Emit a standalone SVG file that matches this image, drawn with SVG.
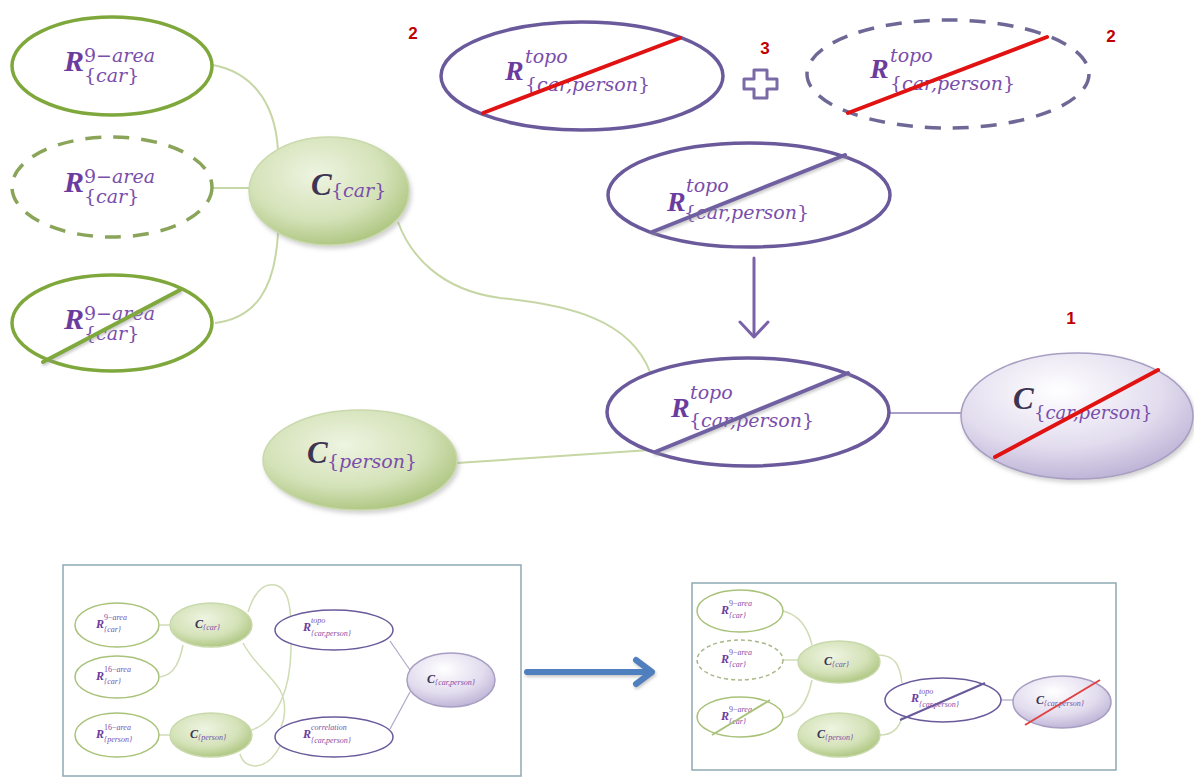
<svg xmlns="http://www.w3.org/2000/svg" width="1194" height="779" viewBox="0 0 1194 779">
<defs>
<radialGradient id="gG" cx="0.42" cy="0.35" r="0.7">
<stop offset="0" stop-color="#eef4e1"/>
<stop offset="0.6" stop-color="#d4e2b8"/>
<stop offset="1" stop-color="#a9c27a"/>
</radialGradient>
<radialGradient id="gP" cx="0.42" cy="0.3" r="0.75">
<stop offset="0" stop-color="#ffffff"/>
<stop offset="0.6" stop-color="#e2dcee"/>
<stop offset="1" stop-color="#b9aed3"/>
</radialGradient>
<filter id="sh" x="-20%" y="-20%" width="140%" height="150%">
<feDropShadow dx="2" dy="3" stdDeviation="2" flood-color="#808080" flood-opacity="0.35"/>
</filter>
<filter id="lsh" x="-10%" y="-40%" width="120%" height="180%">
<feDropShadow dx="1" dy="2" stdDeviation="1.5" flood-color="#909090" flood-opacity="0.5"/>
</filter>
<style>
.ge{fill:#fff;stroke:#7fa83c;stroke-width:3.5}
.gd{fill:#fff;stroke:#8aa55a;stroke-width:3.5;stroke-dasharray:16 12}
.gf{fill:url(#gG);stroke:#c9d9ab;stroke-width:1.5}
.pe{fill:#fff;stroke:#6a5a9c;stroke-width:3.5}
.pd{fill:#fff;stroke:#6e6896;stroke-width:3.5;stroke-dasharray:16 12}
.pf{fill:url(#gP);stroke:#a79ec2;stroke-width:1.5}
.gc{fill:none;stroke:#c6d6a4;stroke-width:2}
.pc{fill:none;stroke:#a99fc8;stroke-width:2}
.red{stroke:#e01212;stroke-width:4;stroke-linecap:round}
.ps{stroke:#7061a2;stroke-width:4;stroke-linecap:round}
.gs{stroke:#7fa83c;stroke-width:4;stroke-linecap:round}
.R{font-family:"Liberation Serif",serif;font-weight:bold;font-style:italic;fill:#6b3c9e}
.C{font-family:"Liberation Serif",serif;font-weight:bold;font-style:italic;fill:#3d3452}
.s{font-family:"DejaVu Serif",serif;font-style:italic;fill:#7a4eab}
.t{font-family:"Liberation Serif",serif;font-style:italic;fill:#7a4eab}
.n{font-style:normal}
.num{font-family:"Liberation Sans",sans-serif;font-weight:bold;font-size:17px;fill:#c00000;text-anchor:middle}
.ge2{fill:#fff;stroke:#a9c27a;stroke-width:1.5}
.gd2{fill:#fff;stroke:#a9b888;stroke-width:1.5;stroke-dasharray:4 3}
.pe2{fill:#fff;stroke:#6a5a9c;stroke-width:1.5}
.gc2{fill:none;stroke:#cfdcb4;stroke-width:1.5}
.pc2{fill:none;stroke:#aea6c8;stroke-width:1.2}
.box{fill:#fff;stroke:#8fa9b2;stroke-width:1.5}
</style>
</defs>
<rect width="1194" height="779" fill="#ffffff"/>

<g id="connectors">
<path class="gc" d="M213,65 C250,72 275,100 278,150"/>
<path class="gc" d="M212,188 L250,188"/>
<path class="gc" d="M215,323 C255,318 275,290 278,233"/>
<path class="gc" d="M398,222 C410,255 440,290 500,298 C570,305 630,320 650,372"/>
<path class="gc" d="M457,463 L650,450"/>
<path class="pc" d="M889,413 L962,413"/>
<g fill="none" stroke="#7a62a8" stroke-width="3" stroke-linecap="round" stroke-linejoin="round">
<path d="M754,258 L754,336"/>
<path d="M740,322 L754,337 L768,322"/>
</g>
<g fill="none" stroke="#4f7fbf" stroke-width="6" stroke-linecap="round" stroke-linejoin="round" filter="url(#lsh)">
<path d="M527,672 L650,672"/>
<path d="M636,660 L652,672 L636,684"/>
</g>
</g>

<g id="n-r9-car-1">
<ellipse class="ge" cx="112" cy="66" rx="100" ry="49"/>
<text class="R" x="64" y="71" font-size="30">R</text>
<text class="s" x="84" y="62" font-size="19"><tspan class="n">9−</tspan>area</text>
<text class="s" x="84" y="82" font-size="19"><tspan class="n">{</tspan>car<tspan class="n">}</tspan></text>
</g>
<g id="n-r9-car-2">
<ellipse class="gd" cx="112" cy="187" rx="100" ry="50"/>
<text class="R" x="64" y="192" font-size="30">R</text>
<text class="s" x="84" y="183" font-size="19"><tspan class="n">9−</tspan>area</text>
<text class="s" x="84" y="203" font-size="19"><tspan class="n">{</tspan>car<tspan class="n">}</tspan></text>
</g>
<g id="n-r9-car-3">
<ellipse class="ge" cx="112" cy="323" rx="100" ry="48"/>
<text class="R" x="64" y="329" font-size="30">R</text>
<text class="s" x="84" y="320" font-size="19"><tspan class="n">9−</tspan>area</text>
<text class="s" x="84" y="340" font-size="19"><tspan class="n">{</tspan>car<tspan class="n">}</tspan></text>
<line class="gs" x1="43" y1="362" x2="180" y2="290" filter="url(#lsh)"/>
</g>
<g id="n-c-car">
<ellipse class="gf" cx="329" cy="191" rx="80" ry="54" filter="url(#sh)"/>
<text class="C" x="311" y="195" font-size="31">C</text>
<text class="s" x="331" y="197" font-size="19"><tspan class="n">{</tspan>car<tspan class="n">}</tspan></text>
</g>
<g id="n-c-person">
<ellipse class="gf" cx="360" cy="460" rx="97" ry="50" filter="url(#sh)"/>
<text class="C" x="307" y="463" font-size="31">C</text>
<text class="s" x="327" y="468" font-size="19"><tspan class="n">{</tspan>person<tspan class="n">}</tspan></text>
</g>

<text class="num" x="413" y="39">2</text>
<g id="n-topo-1">
<ellipse class="pe" cx="582" cy="76" rx="141" ry="54"/>
<text class="R" x="505" y="80" font-size="28">R</text>
<text class="s" x="525" y="63" font-size="19">topo</text>
<text class="s" x="525" y="91" font-size="19"><tspan class="n">{</tspan>car,person<tspan class="n">}</tspan></text>
<line class="red" x1="483" y1="113" x2="680" y2="38"/>
</g>
<text class="num" x="765" y="54">3</text>
<path id="plus" d="M754,70 H767 V79 H777 V89 H767 V98 H754 V89 H744 V79 H754 Z" fill="#fff" stroke="#7a6aa8" stroke-width="3" stroke-linejoin="round"/>
<g id="n-topo-2">
<ellipse class="pd" cx="948" cy="74" rx="141" ry="54"/>
<text class="R" x="870" y="78" font-size="28">R</text>
<text class="s" x="890" y="62" font-size="19">topo</text>
<text class="s" x="890" y="90" font-size="19"><tspan class="n">{</tspan>car,person<tspan class="n">}</tspan></text>
<line class="red" x1="848" y1="113" x2="1047" y2="37"/>
</g>
<text class="num" x="1111" y="42">2</text>

<g id="n-topo-mid">
<ellipse class="pe" cx="749" cy="195" rx="141" ry="52"/>
<text class="R" x="667" y="211" font-size="28">R</text>
<text class="s" x="686" y="192" font-size="19">topo</text>
<text class="s" x="684" y="219" font-size="19"><tspan class="n">{</tspan>car,person<tspan class="n">}</tspan></text>
<line class="ps" x1="652" y1="232" x2="845" y2="155" filter="url(#lsh)"/>
</g>
<g id="n-topo-bottom">
<ellipse class="pe" cx="748" cy="412" rx="141" ry="54"/>
<text class="R" x="671" y="417" font-size="28">R</text>
<text class="s" x="690" y="399" font-size="19">topo</text>
<text class="s" x="689" y="427" font-size="19"><tspan class="n">{</tspan>car,person<tspan class="n">}</tspan></text>
<line class="ps" x1="655" y1="452" x2="848" y2="373" filter="url(#lsh)"/>
</g>
<text class="num" x="1071" y="324">1</text>
<g id="n-c-carperson">
<ellipse class="pf" cx="1077" cy="416" rx="116" ry="63" filter="url(#sh)"/>
<text class="C" x="1013" y="409" font-size="31">C</text>
<text class="s" x="1034" y="419" font-size="18"><tspan class="n">{</tspan>car,person<tspan class="n">}</tspan></text>
<line class="red" x1="995" y1="457" x2="1158" y2="370"/>
</g>

<g id="before-box">
<rect class="box" x="63" y="565" width="458" height="211"/>
<g id="b-connectors">
<path class="gc2" d="M160,625 L170,625"/>
<path class="gc2" d="M160,677 C175,675 180,660 183,645"/>
<path class="gc2" d="M159,735 L170,735"/>
<path class="gc2" d="M248,612 C255,590 265,583 275,585 C290,588 292,610 291,650 C290,690 278,720 252,730"/>
<path class="gc2" d="M243,643 C255,665 268,672 280,690 C287,703 285,718 281,727"/>
<path class="gc2" d="M240,754 C245,772 268,770 280,746"/>
<path class="pc2" d="M390,641 L410,670"/>
<path class="pc2" d="M390,729 L410,692"/>
</g>
<g id="b-r9"><ellipse class="ge2" cx="117" cy="625" rx="42" ry="22"/>
<text class="R" x="96" y="628" font-size="12">R</text><text class="t" x="104" y="620" font-size="8"><tspan class="n">9−</tspan>area</text><text class="t" x="104" y="632" font-size="8">{car}</text></g>
<g id="b-r16c"><ellipse class="ge2" cx="117" cy="677" rx="42" ry="21"/>
<text class="R" x="96" y="680" font-size="12">R</text><text class="t" x="104" y="672" font-size="8"><tspan class="n">16−</tspan>area</text><text class="t" x="104" y="684" font-size="8">{car}</text></g>
<g id="b-r16p"><ellipse class="ge2" cx="117" cy="735" rx="42" ry="22"/>
<text class="R" x="96" y="738" font-size="12">R</text><text class="t" x="104" y="730" font-size="8"><tspan class="n">16−</tspan>area</text><text class="t" x="104" y="742" font-size="8">{person}</text></g>
<g id="b-ccar"><ellipse class="gf" cx="211" cy="625" rx="41" ry="22"/>
<text class="C" x="195" y="628" font-size="12">C</text><text class="t" x="203" y="630" font-size="8">{car}</text></g>
<g id="b-cperson"><ellipse class="gf" cx="211" cy="735" rx="41" ry="22"/>
<text class="C" x="190" y="738" font-size="12">C</text><text class="t" x="198" y="740" font-size="8">{person}</text></g>
<g id="b-topo"><ellipse class="pe2" cx="334" cy="630" rx="59" ry="20"/>
<text class="R" x="303" y="631" font-size="12">R</text><text class="t" x="311" y="623" font-size="8">topo</text><text class="t" x="311" y="636" font-size="8">{car,person}</text></g>
<g id="b-corr"><ellipse class="pe2" cx="334" cy="737" rx="59" ry="20"/>
<text class="R" x="303" y="738" font-size="12">R</text><text class="t" x="311" y="730" font-size="8">correlation</text><text class="t" x="311" y="743" font-size="8">{car,person}</text></g>
<g id="b-ccp"><ellipse class="pf" cx="451" cy="680" rx="44" ry="27"/>
<text class="C" x="427" y="683" font-size="12">C</text><text class="t" x="435" y="685" font-size="8">{car,person}</text></g>
</g>

<g id="after-box">
<rect class="box" x="692" y="583" width="424" height="187"/>
<g id="a-connectors">
<path class="gc2" d="M783,611 C800,615 808,628 812,645"/>
<path class="gc2" d="M783,660 L798,660"/>
<path class="gc2" d="M783,718 C800,715 808,700 812,680"/>
<path class="gc2" d="M878,655 C895,655 900,665 902,683"/>
<path class="gc2" d="M880,735 C895,735 900,725 902,717"/>
<path class="pc2" d="M1001,700 L1013,700"/>
</g>
<g id="a-r9-1"><ellipse class="ge2" cx="740" cy="611" rx="43" ry="21"/>
<text class="R" x="721" y="614" font-size="12">R</text><text class="t" x="729" y="606" font-size="8"><tspan class="n">9−</tspan>area</text><text class="t" x="729" y="618" font-size="8">{car}</text></g>
<g id="a-r9-2"><ellipse class="gd2" cx="740" cy="660" rx="43" ry="20"/>
<text class="R" x="721" y="663" font-size="12">R</text><text class="t" x="729" y="655" font-size="8"><tspan class="n">9−</tspan>area</text><text class="t" x="729" y="667" font-size="8">{car}</text></g>
<g id="a-r9-3"><ellipse class="ge2" cx="740" cy="717" rx="43" ry="20"/>
<text class="R" x="721" y="720" font-size="12">R</text><text class="t" x="729" y="712" font-size="8"><tspan class="n">9−</tspan>area</text><text class="t" x="729" y="724" font-size="8">{car}</text>
<line x1="712" y1="735" x2="770" y2="700" stroke="#a9c27a" stroke-width="2"/></g>
<g id="a-ccar"><ellipse class="gf" cx="839" cy="662" rx="41" ry="21"/>
<text class="C" x="824" y="665" font-size="12">C</text><text class="t" x="832" y="667" font-size="8">{car}</text></g>
<g id="a-cperson"><ellipse class="gf" cx="839" cy="735" rx="41" ry="22"/>
<text class="C" x="817" y="738" font-size="12">C</text><text class="t" x="825" y="740" font-size="8">{person}</text></g>
<g id="a-topo"><ellipse class="pe2" cx="943" cy="700" rx="58" ry="22"/>
<text class="R" x="911" y="702" font-size="12">R</text><text class="t" x="919" y="694" font-size="8">topo</text><text class="t" x="919" y="707" font-size="8">{car,person}</text>
<line x1="900" y1="720" x2="985" y2="683" stroke="#6a5a9c" stroke-width="2"/></g>
<g id="a-ccp"><ellipse class="pf" cx="1062" cy="702" rx="49" ry="26"/>
<text class="C" x="1036" y="704" font-size="12">C</text><text class="t" x="1044" y="706" font-size="8">{car,person}</text>
<line x1="1025" y1="725" x2="1100" y2="680" stroke="#e04040" stroke-width="2"/></g>
</g>
</svg>
